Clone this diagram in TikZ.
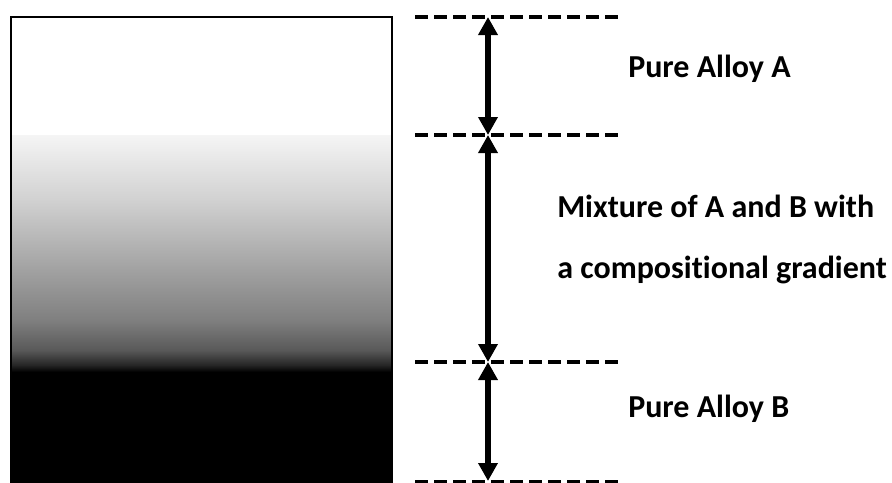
\documentclass[tikz,border=0pt]{standalone}
\usepackage{fontspec}
\setmainfont[Ligatures={NoCommon}]{Carlito}
\usetikzlibrary{arrows.meta}
\pgfdeclareverticalshading{alloygrad}{100bp}{color(0bp)=(black); color(25bp)=(black); color(26.5bp)=(black!85); color(29.65bp)=(black!65); color(36bp)=(black!50); color(48.65bp)=(black!34); color(61.3bp)=(black!18); color(75bp)=(black!4); color(100bp)=(black!4)}
\tikzset{
  levelline/.style={line width=3pt, dash pattern=on 9.75pt off 4.5pt},
  spanarrow/.style={line width=4.9pt, {Triangle[length=13.5pt,width=14pt]}-{Triangle[length=13.5pt,width=14pt]}},
  label/.style={font=\bfseries\fontsize{24}{28}\selectfont, inner sep=0pt, anchor=base west},
}
\begin{document}
\begin{tikzpicture}[x=0.75pt,y=-0.75pt]
\useasboundingbox (0,0) rectangle (892,482);
\clip (0,0) rectangle (892,482);
% bar
\fill[white] (11,17) rectangle (392,135);
\shade[shading=alloygrad] (11,135) rectangle (392,372);
\fill[black] (11,372) rectangle (392,490);
\draw[line width=1.5pt] (11,490) -- (11,17) -- (392,17) -- (392,490);
% level lines
\coordinate (l1a) at (415,17);  \coordinate (l1b) at (622,17);
\coordinate (l2a) at (415,135); \coordinate (l2b) at (622,135);
\coordinate (l3a) at (415,362); \coordinate (l3b) at (622,362);
\coordinate (l4a) at (415,482); \coordinate (l4b) at (622,482);
\draw[levelline] (l1a) -- (l1b);
\draw[levelline] (l2a) -- (l2b);
\draw[levelline] (l3a) -- (l3b);
\draw[levelline] (l4a) -- (l4b);
% arrows
\coordinate (p1) at (488,17);
\coordinate (p2) at (488,135);
\coordinate (p3) at (488,362);
\coordinate (p4) at (488,481);
\draw[spanarrow] (p1) -- (p2);
\draw[spanarrow] (p2) -- (p3);
\draw[spanarrow] (p3) -- (p4);
% labels
\node[label] (ta) at (628,77) {Pure Alloy A};
\node[label] (tm1) at (557,217) {Mixture of A and B with};
\node[label] (tm2) at (557,278) {a compositional gradient};
\node[label] (tb) at (628,417) {Pure Alloy B};
\end{tikzpicture}
\end{document}
